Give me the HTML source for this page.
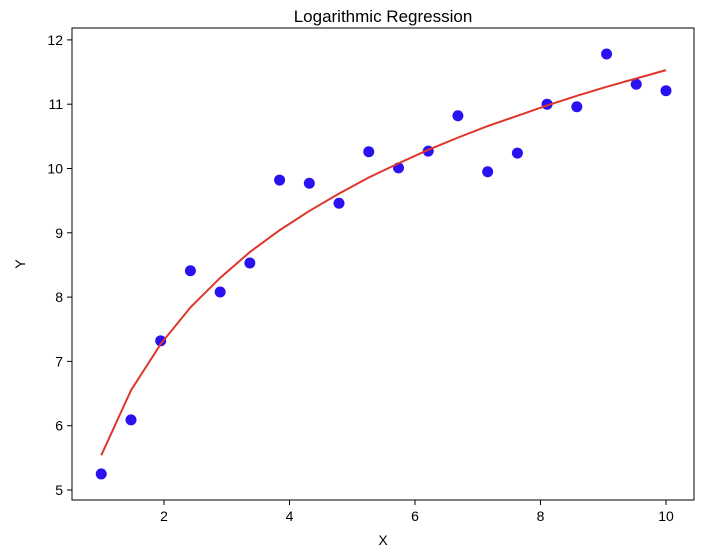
<!DOCTYPE html>
<html><head><meta charset="utf-8"><style>
html,body{margin:0;padding:0;background:#fff;}
svg{display:block;font-family:"Liberation Sans","DejaVu Sans",sans-serif;}
</style></head><body>
<svg id="chart" width="709" height="553">
<rect width="709" height="553" fill="#fff"/>
<text x="383" y="22" text-anchor="middle" font-size="17" fill="#000">Logarithmic Regression</text>
<g id="plot"></g>
<rect x="72" y="28" width="622" height="472" fill="none" stroke="#000" stroke-width="1"/>
<text x="383" y="545" text-anchor="middle" font-size="14">X</text>
<text x="25" y="264" text-anchor="middle" font-size="14" transform="rotate(-90 25 264)">Y</text>
</svg>
<script>
const xs = [1,1.474,1.947,2.421,2.895,3.368,3.842,4.316,4.789,5.263,5.737,6.211,6.684,7.158,7.632,8.105,8.579,9.053,9.526,10];
const ys = [5.25,6.09,7.32,8.41,8.08,8.53,9.82,9.77,9.46,10.26,10.01,10.27,10.82,9.95,10.24,11.00,10.96,11.78,11.31,11.21];
const fit = [5.54,6.55,7.27,7.84,8.30,8.70,9.04,9.34,9.61,9.86,10.08,10.29,10.48,10.66,10.82,10.98,11.13,11.27,11.40,11.53];
const xTicks = [2,4,6,8,10];
const yTicks = [5,6,7,8,9,10,11,12];

const sx = v => 164 + (v - 2) * 62.75;
const sy = v => 490 - (v - 5) * 64.3;
const NS = "http://www.w3.org/2000/svg";
const g = document.getElementById('plot');
function mk(t, a){const e=document.createElementNS(NS,t);for(const k in a)e.setAttribute(k,a[k]);g.appendChild(e);return e;}

xTicks.forEach(t=>{
  const l=mk('line',{x1:sx(t),x2:sx(t),y1:500,y2:505,stroke:'#000'});
  
  
  const tx=mk('text',{x:sx(t),y:521,'text-anchor':'middle','font-size':'14'});
  tx.textContent=t;
  
  
});
yTicks.forEach(t=>{
  const l=mk('line',{x1:67,x2:72,y1:sy(t),y2:sy(t),stroke:'#000'});
  
  
  const tx=mk('text',{x:63,y:sy(t)+5,'text-anchor':'end','font-size':'14'});
  tx.textContent=t;
  
  
});
xs.forEach((x,i)=>{
  const c=mk('circle',{cx:sx(x),cy:sy(ys[i]),r:5.5,fill:'#2a12f0'});
  
  
});
const pl=mk('polyline',{points:xs.map((x,i)=>sx(x)+','+sy(fit[i])).join(' '),fill:'none',stroke:'#e0352b','stroke-width':2});


</script>
</body></html>
